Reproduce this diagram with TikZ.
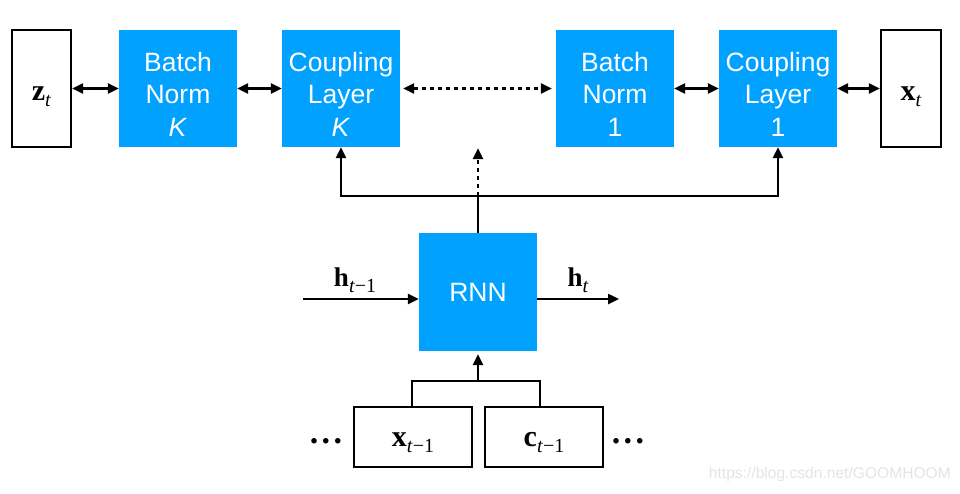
\documentclass[tikz,border=0pt]{standalone}
\usepackage{fontspec}
\setmainfont{Liberation Serif}
\newfontfamily\hel{Liberation Sans}
\newfontfamily\tms{Liberation Serif}
\usetikzlibrary{arrows.meta,calc}
\definecolor{flowblue}{RGB}{0,161,255}
\definecolor{wmgray}{RGB}{228,228,228}
\tikzset{
  bluebox/.style={fill=flowblue, draw=none, minimum width=118pt, minimum height=117pt, inner sep=0pt},
  btext/.style={text=white, align=center, inner sep=0pt, font=\hel\fontsize{26.5}{32.5}\selectfont},
  varbox/.style={draw=black, line width=2.4pt, fill=white, inner sep=0pt},
  vtext/.style={inner sep=0pt, font=\tms\fontsize{30}{32}\selectfont},
  conn/.style={line width=2.4pt, -{Triangle[length=11pt,width=10pt]}},
  biconn/.style={line width=2.4pt, {Triangle[length=11pt,width=10pt]}-{Triangle[length=11pt,width=10pt]}},
  lbl/.style={font=\tms\fontsize{27}{28}\selectfont, inner sep=0pt},
  dots/.style={inner sep=0pt, font=\tms\bfseries\fontsize{34}{34}\selectfont},
}
\newcommand{\vsub}[2]{\textbf{#1}\raisebox{-6pt}{\fontsize{20}{20}\selectfont #2}}
\newcommand{\hdots}{.\hspace{3.5pt}.\hspace{3.5pt}.}
\begin{document}
\begin{tikzpicture}[x=1pt,y=-1pt]
\useasboundingbox (0,0) rectangle (960,493);
% top row boxes
\node[varbox, minimum width=59pt, minimum height=117pt] (zt) at (41.5,88.5) {};
\node[bluebox] (bnK) at (178,88.5) {};
\node[bluebox] (clK) at (341,88.5) {};
\node[bluebox] (bn1) at (615,88.5) {};
\node[bluebox] (cl1) at (778,88.5) {};
\node[varbox, minimum width=60pt, minimum height=117pt] (xt) at (911,88.5) {};
% top row texts
\node[vtext] (ztt) at ([yshift=-8pt]zt.center) {\vsub{z}{\textit{t}}};
\node[btext] (bnKt) at ([yshift=-5.5pt]bnK.center) {Batch\\Norm\\\textit{K}};
\node[btext] (clKt) at ([yshift=-5.5pt]clK.center) {Coupling\\Layer\\\textit{K}};
\node[btext] (bn1t) at ([yshift=-5.5pt]bn1.center) {Batch\\Norm\\1};
\node[btext] (cl1t) at ([yshift=-5.5pt]cl1.center) {Coupling\\Layer\\1};
\node[vtext] (xtt) at ([yshift=-8pt]xt.center) {\vsub{x}{\textit{t}}};
\draw[biconn] (zt) -- (bnK);
\draw[biconn] (bnK) -- (clK);
\draw[biconn, dash pattern=on 4pt off 4pt] ($(clK.east)+(3,0)$) -- ($(bn1.west)+(-4,0)$);
\draw[biconn] (bn1) -- (cl1);
\draw[biconn] (cl1) -- (xt);
% RNN
\node[bluebox, minimum height=118pt, text=white, font=\hel\fontsize{26.5}{28}\selectfont] (rnn) at (478,292) {RNN};
\coordinate (hin) at (303,299);
\coordinate (hout) at (619,299);
\draw[conn] (hin) -- (rnn.west |- hin) node[pos=0.45, above=5pt, lbl] {\vsub{h}{\textit{t}−1}};
\draw[conn] (rnn.east |- hout) -- (hout) node[pos=0.5, above=5pt, lbl] {\vsub{h}{\textit{t}}};
% branch to couplings
\coordinate (br) at (478,196);
\draw[line width=2.4pt] (rnn.north) -- (br);
\draw[conn] (br) -| (clK.south);
\draw[conn] (br) -| (cl1.south);
\draw[conn, dash pattern=on 4pt off 4pt] (br) -- ($(rnn.north |- clK.south)+(0,1)$);
% inputs
\node[varbox, minimum width=118pt, minimum height=60pt] (xprev) at (413,437) {};
\node[varbox, minimum width=118pt, minimum height=60pt] (cprev) at (544,437) {};
\node[vtext] (xprevt) at ([yshift=-6pt]xprev.center) {\vsub{x}{\textit{t}−1}};
\node[vtext] (cprevt) at ([yshift=-6pt]cprev.center) {\vsub{c}{\textit{t}−1}};
\coordinate (jn) at (478,381);
\draw[line width=2.4pt] ($(xprev.north)+(-1,0)$) |- (jn) -| ($(cprev.north)+(-4,0)$);
\draw[conn] (jn) -- ($(rnn.south)+(0,3)$);
\node[dots] (dl) at (326,441) {\hdots};
\node[dots] (dr) at (628,441) {\hdots};
% watermark
\node[anchor=east, inner sep=0pt, text=wmgray, font=\hel\fontsize{15.6}{16}\selectfont] (wm) at (951,474) {https://blog.csdn.net/GOOMHOOM};
\end{tikzpicture}
\end{document}
